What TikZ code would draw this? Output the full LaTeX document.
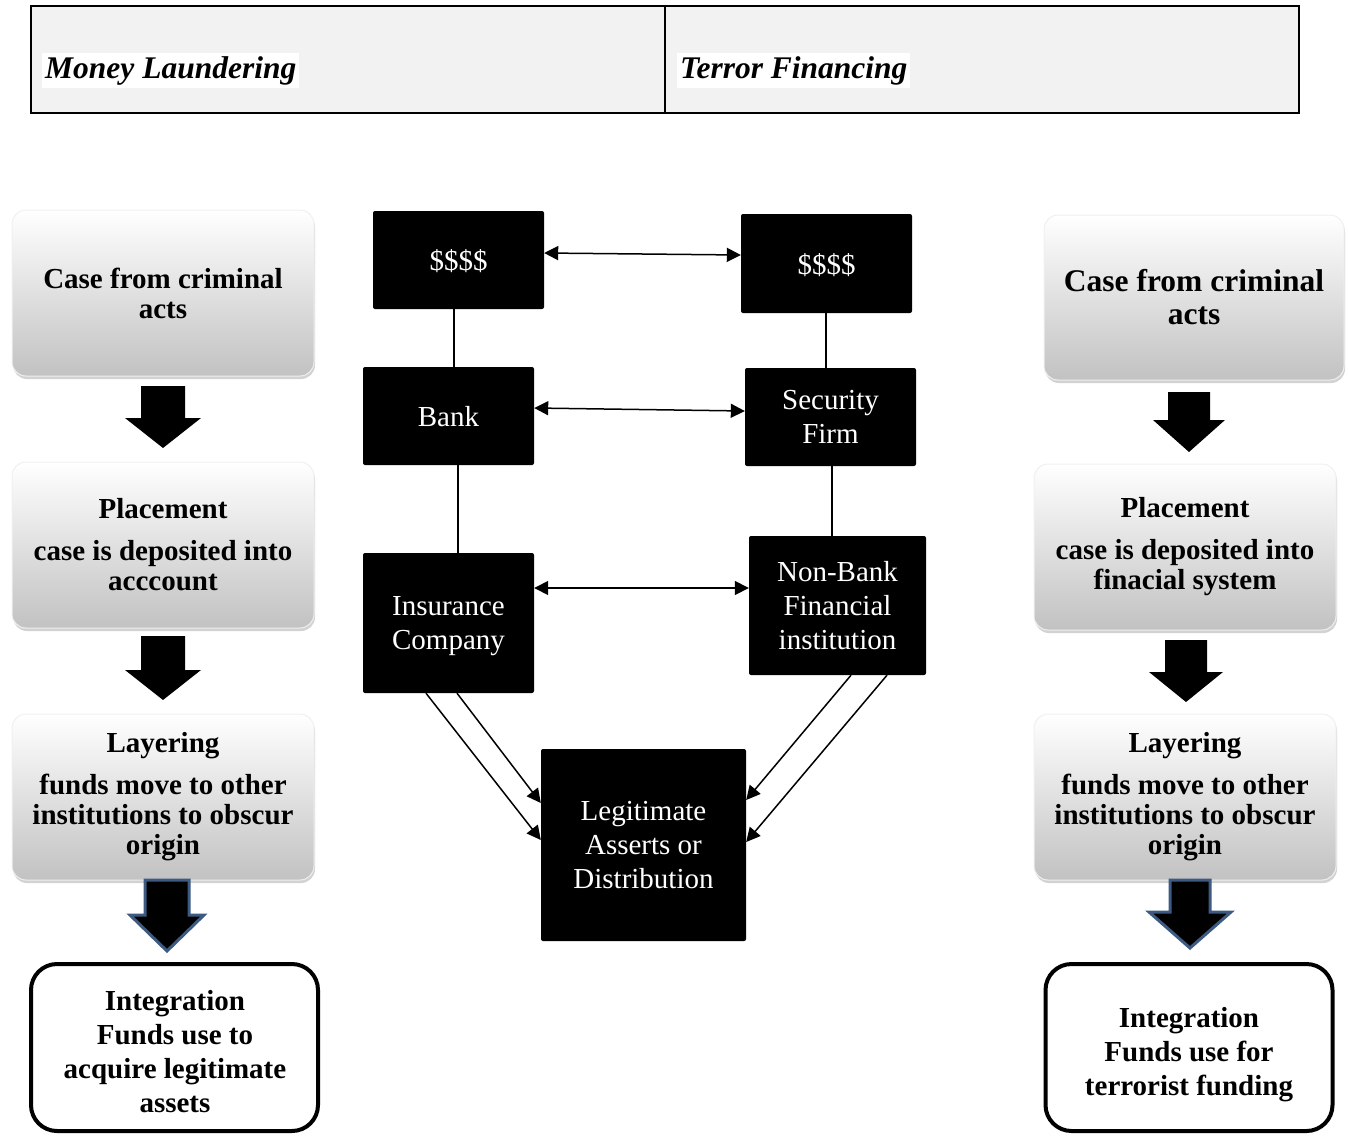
\documentclass[tikz,border=0pt]{standalone}
\usepackage{fontspec}
\setmainfont{Liberation Serif}
\usetikzlibrary{arrows.meta,shadows,calc}
\definecolor{hdrgray}{HTML}{F2F2F2}
\definecolor{blueA}{HTML}{3C5A82}
\newcommand{\blockarr}[7]{%
  \path[#7] (#1-#5,#2) -- (#1+#5,#2) -- (#1+#5,#3) -- (#1+#6,#3) -- (#1,#4) -- (#1-#6,#3) -- (#1-#5,#3) -- cycle;}
\begin{document}
\begin{tikzpicture}[x=1pt,y=-1pt,
  hcell/.style={draw, line width=2pt, fill=hdrgray, minimum width=634pt, minimum height=107pt, inner sep=0pt},
  htext/.style={fill=white, anchor=base west, inner sep=3pt, font=\fontsize{31.5}{36}\selectfont\bfseries\itshape},
  gbox/.style={rounded corners=14pt, top color=white, bottom color=black!24, draw=black!6, line width=1pt,
    minimum width=302pt, minimum height=166pt, align=center, inner sep=0pt,
    font=\fontsize{29}{30}\selectfont\bfseries,
    drop shadow={shadow xshift=1pt, shadow yshift=-3pt, opacity=0.25, fill=black!70}},
  ibox/.style={draw, line width=4pt, rounded corners=26pt, fill=white, minimum width=287pt, minimum height=167pt, inner sep=0pt},
  itext/.style={align=center, inner sep=0pt, font=\fontsize{29}{34}\selectfont\bfseries},
  dbox/.style={fill=black, rounded corners=2pt, text=white, align=center, inner sep=0pt, text depth=0pt,
    font=\fontsize{29}{34}\selectfont},
  conn/.style={line width=1.5pt},
  tip/.tip={Triangle[length=14pt,width=14pt]},
  biarrow/.style={conn, tip-tip},
  onearrow/.style={conn, -tip}
]
\useasboundingbox (0,0) rectangle (1348,1135);

% header
\node[hcell] (h1) at (348,59.5) {};
\node[hcell] (h2) at (982,59.5) {};
\node[htext] (t1) at (42,78) {Money Laundering};
\node[htext] (t2) at (677,78) {Terror Financing};

% left column
\node[gbox] (L1) at (163,293) {Case from criminal\\acts};
\node[gbox] (L2) at (163,545) {Placement\\[12pt]case is deposited into\\acccount};
\node[gbox] (L3) at (163,797) {Layering\\[12pt]funds move to other\\institutions to obscur\\origin};
\node[ibox] (L4) at (174.5,1047.5) {};
\node[itext] (L4t) at (175,1051.5) {Integration\\Funds use to\\acquire legitimate\\assets};

% right column
\node[gbox, minimum width=300pt, minimum height=165pt, font=\fontsize{31.5}{33}\selectfont\bfseries] (R1) at (1194,297.5) {Case from criminal\\acts};
\node[gbox] (R2) at (1185,547) {Placement\\[12pt]case is deposited into\\finacial system};
\node[gbox] (R3) at (1185,797) {Layering\\[12pt]funds move to other\\institutions to obscur\\origin};
\node[ibox] (R4) at (1189,1047.5) {};
\node[itext] (R4t) at (1189,1054.5) {Integration\\Funds use for\\terrorist funding};

% block arrows
\blockarr{163}{386}{418}{448}{22}{38}{fill=black}
\blockarr{163}{636}{670}{700}{22}{38}{fill=black}
\blockarr{167}{880}{915}{951}{22}{37}{fill=black, draw=blueA, line width=3pt}
\blockarr{1189}{392}{420}{452}{21}{36}{fill=black}
\blockarr{1186}{640}{672}{702}{21}{37}{fill=black}
\blockarr{1190}{880}{912}{948}{20}{41}{fill=black, draw=blueA, line width=3pt}

% center boxes
\node[dbox, minimum width=171pt, minimum height=98pt] (d1) at (458.5,260) {\$\$\$\$};
\node[dbox, minimum width=171pt, minimum height=99pt] (d2) at (826.5,263.5) {\$\$\$\$};
\node[dbox, minimum width=171pt, minimum height=98pt] (bank) at (448.5,416) {Bank};
\node[dbox, minimum width=171pt, minimum height=98pt] (sec) at (830.5,417) {Security\\Firm};
\node[dbox, minimum width=171pt, minimum height=140pt] (ins) at (448.5,623) {Insurance\\Company};
\node[dbox, minimum width=177pt, minimum height=139pt] (nbf) at (837.5,605.5) {Non-Bank\\Financial\\institution};
\node[dbox, minimum width=205pt, minimum height=192pt] (leg) at (643.5,845) {Legitimate\\Asserts or\\Distribution};

% connectors
\draw[biarrow] ([yshift=7pt]d1.east) -- ([yshift=8.5pt]d2.west);
\draw[biarrow] ([yshift=8pt]bank.east) -- ([yshift=6pt]sec.west);
\draw[biarrow] ([yshift=35pt]ins.east) -- ([yshift=17.5pt]nbf.west);
\draw[conn] ([xshift=-4.5pt]d1.south) -- ([xshift=5.5pt]bank.north);
\draw[conn] ([xshift=-0.5pt]d2.south) -- ([xshift=-4.5pt]sec.north);
\draw[conn] ([xshift=9.5pt]bank.south) -- ([xshift=9.5pt]ins.north);
\draw[conn] ([xshift=1.5pt]sec.south) -- ([xshift=-5.5pt]nbf.north);
\draw[onearrow] ([xshift=-22.5pt]ins.south) -- ([yshift=5pt]leg.west);
\draw[onearrow] ([xshift=8.5pt]ins.south) -- ([yshift=42pt]leg.west);
\draw[onearrow] ([xshift=13.5pt]nbf.south) -- ([yshift=45pt]leg.east);
\draw[onearrow] ([xshift=49.5pt]nbf.south) -- ([yshift=3pt]leg.east);
\end{tikzpicture}
\end{document}
